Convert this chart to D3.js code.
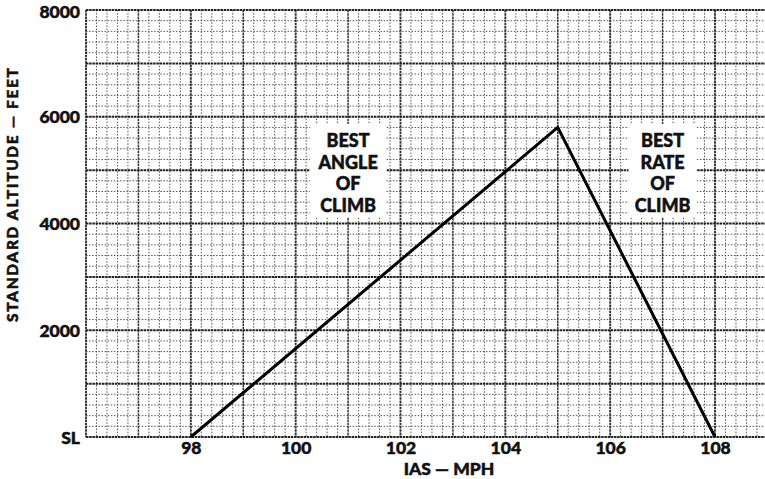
<!DOCTYPE html>
<html>
<head>
<meta charset="utf-8">
<script src="https://cdn.jsdelivr.net/npm/d3@7"></script>
<style>
  html, body { margin: 0; padding: 0; background: #fff; }
  svg { display: block; }
  text { font-family: Lato, "Open Sans", sans-serif; font-weight: 900; fill: #111; stroke: #111; stroke-width: 0.5px; }
</style>
</head>
<body>
<svg id="chart" width="765" height="479"></svg>
<script>
// ---- data ----
const iasMph = [98, 105, 108];
const altitudeFt = [0, 5800, 0];
const xTickValues = [98, 100, 102, 104, 106, 108];
const xTickLabels = ["98", "100", "102", "104", "106", "108"];
const yTickValues = [0, 2000, 4000, 6000, 8000];
const yTickLabels = ["SL", "2000", "4000", "6000", "8000"];
const xTitle = "IAS — MPH";
const yTitle = "STANDARD  ALTITUDE — FEET";
const noteAngle = ["BEST", "ANGLE", "OF", "CLIMB"];
const noteRate = ["BEST", "RATE", "OF", "CLIMB"];
const noteAngleX = 101, noteRateX = 107;

// ---- layout ----
const W = 765, H = 479;
const mLeft = 86, mTop = 10, mBottom = 437;
const x = d3.scaleLinear().domain([96, 108]).range([mLeft, 715]);
const y = d3.scaleLinear().domain([0, 8000]).range([mBottom, mTop]);
const xMax = x.invert(W + 2);
const FONT = "Lato, 'Open Sans', sans-serif";

const svg = d3.select("#chart");

const plot = svg.append("g");
const minorX = d3.range(96, xMax, 0.2).filter(v => Math.abs(v - Math.round(v)) > 0.01);
const minorY = d3.range(0, 8001, 200).filter(v => v % 1000 !== 0);
const majorX = d3.range(96, xMax, 1);
const majorY = d3.range(0, 8001, 1000);

plot.selectAll("line.minx").data(minorX).join("line")
  .attr("x1", d => x(d)).attr("x2", d => x(d))
  .attr("y1", mTop).attr("y2", mBottom)
  .attr("stroke", "#555").attr("stroke-width", 1).attr("stroke-dasharray", "1.5,1.6");
plot.selectAll("line.miny").data(minorY).join("line")
  .attr("y1", d => y(d)).attr("y2", d => y(d))
  .attr("x1", mLeft).attr("x2", W)
  .attr("stroke", "#555").attr("stroke-width", 1).attr("stroke-dasharray", "1.5,1.6");

plot.selectAll("line.majx").data(majorX).join("line")
  .attr("x1", d => x(d)).attr("x2", d => x(d))
  .attr("y1", mTop).attr("y2", mBottom)
  .attr("stroke", "#333").attr("stroke-width", d => (d % 2 === 0 ? 1.9 : 1.5))
  .attr("stroke-dasharray", "2.5,0.7");
plot.selectAll("line.majy").data(majorY).join("line")
  .attr("y1", d => y(d)).attr("y2", d => y(d))
  .attr("x1", mLeft).attr("x2", W)
  .attr("stroke", "#222").attr("stroke-width", 2)
  .attr("stroke-dasharray", "2.5,0.7");

// white patches behind the notes
const boxes = [
  {cx: x(noteAngleX), w: 76},
  {cx: x(noteRateX), w: 68}
];
plot.selectAll("rect.box").data(boxes).join("rect")
  .attr("x", d => d.cx - d.w / 2).attr("width", d => d.w)
  .attr("y", 124).attr("height", 93)
  .attr("fill", "#fff");

const pts = iasMph.map((v, i) => [v, altitudeFt[i]]);
svg.append("path")
  .datum(pts)
  .attr("d", d3.line().x(d => x(d[0])).y(d => y(d[1])))
  .attr("fill", "none").attr("stroke", "#000").attr("stroke-width", 3)
  .attr("stroke-linejoin", "miter");

const yAxis = d3.axisLeft(y).tickValues(yTickValues)
  .tickFormat((d, i) => yTickLabels[i]).tickSize(0).tickPadding(6);
const gy = svg.append("g").attr("transform", `translate(${mLeft},0)`).call(yAxis);
gy.select(".domain").remove();
gy.selectAll("text").attr("font-size", 17.5).attr("font-family", FONT)
  .attr("font-weight", 900).attr("fill", "#111")
  .attr("dy", d => d === 8000 ? "0.45em" : "0.35em");

const xAxis = d3.axisBottom(x).tickValues(xTickValues)
  .tickFormat((d, i) => xTickLabels[i]).tickSize(0).tickPadding(5);
const gx = svg.append("g").attr("transform", `translate(0,${mBottom})`).call(xAxis);
gx.select(".domain").remove();
gx.selectAll("text").attr("font-size", 17.5).attr("font-family", FONT)
  .attr("font-weight", 900).attr("fill", "#111");

svg.append("text").attr("x", 449).attr("y", 475).attr("text-anchor", "middle")
  .attr("font-size", 17.5).text(xTitle);
svg.append("text")
  .attr("transform", `translate(18,195) rotate(-90)`)
  .attr("text-anchor", "middle").attr("font-size", 15.5)
  .attr("textLength", 254).attr("lengthAdjust", "spacing")
  .text(yTitle);

function note(lines, cx) {
  svg.append("g").selectAll("text").data(lines).join("text")
    .attr("x", cx).attr("y", (d, i) => 147 + i * 21.5)
    .attr("text-anchor", "middle").attr("font-size", 18)
    .text(d => d);
}
note(noteAngle, x(noteAngleX));
note(noteRate, x(noteRateX));
</script>
</body>
</html>
